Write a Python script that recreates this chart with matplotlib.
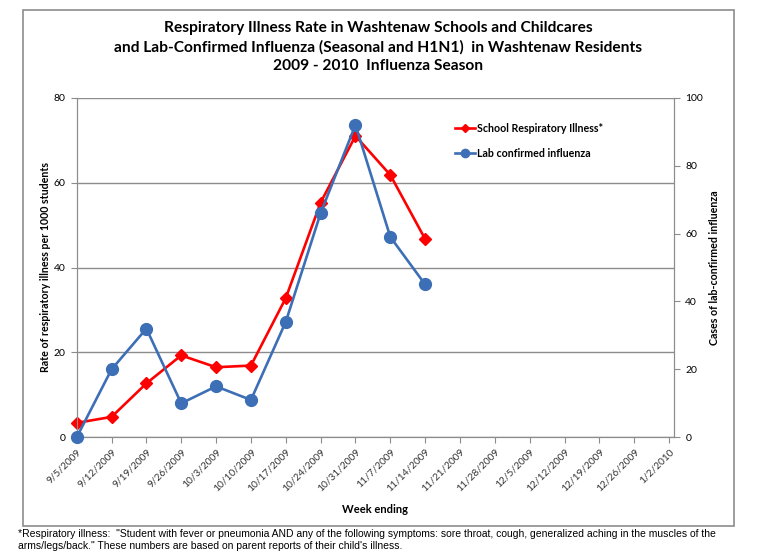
import matplotlib
matplotlib.use("Agg")
import matplotlib.pyplot as plt
from matplotlib.patches import Rectangle

# week-ending dates (category axis)
weeks = ['9/5/2009', '9/12/2009', '9/19/2009', '9/26/2009', '10/3/2009',
         '10/10/2009', '10/17/2009', '10/24/2009', '10/31/2009', '11/7/2009',
         '11/14/2009', '11/21/2009', '11/28/2009', '12/5/2009', '12/12/2009',
         '12/19/2009', '12/26/2009', '1/2/2010']

# school respiratory illness rate per 1000 students (left axis)
school_rate = [3.4, 4.8, 12.7, 19.3, 16.5, 16.9, 32.8, 55.3, 71.0, 61.8, 46.7]
# lab confirmed influenza cases (right axis)
lab_cases = [0, 20, 32, 10, 15, 11, 34, 66, 92, 59, 45]

left_ticks = [0, 20, 40, 60, 80]
right_ticks = [0, 20, 40, 60, 80, 100]

RED = '#ff0000'
BLUE = '#3d6fb6'
GRAY = '#8c8c8c'
FONT = 'Lato'

fig = plt.figure(figsize=(7.57, 5.59), dpi=100)

# outer chart frame
fig.patches.append(Rectangle((22.5 / 757, 1 - 526 / 559), (734 - 22.5) / 757, (526 - 10) / 559,
                             transform=fig.transFigure, fill=False, ec=GRAY, lw=1.2))

ax = fig.add_axes([76.7 / 757, 1 - 437.3 / 559, (674.3 - 76.7) / 757, (437.3 - 97.7) / 559])
ax2 = ax.twinx()

x = list(range(len(weeks)))
red_line, = ax.plot(x[:len(school_rate)], school_rate, color=RED, lw=1.9, marker='D', ms=6.5,
                    label='School Respiratory Illness*', zorder=3, clip_on=False)
blue_line, = ax2.plot(x[:len(lab_cases)], lab_cases, color=BLUE, lw=1.9, marker='o', ms=8.5,
                      label='Lab confirmed influenza', zorder=3, clip_on=False)

ax.set_xlim(0, 17.15)
ax.set_ylim(0, 80)
ax2.set_ylim(0, 100)
ax.set_yticks(left_ticks)
ax2.set_yticks(right_ticks)
ax.set_xticks(x)
ax.set_xticklabels(weeks, rotation=45, ha='right', rotation_mode='anchor',
                   fontsize=7.3, family=FONT, color='#333333')
ax.tick_params(axis='x', length=4, color=GRAY, pad=3)
ax.tick_params(axis='y', length=4, color=GRAY, labelsize=7.5, pad=4)
ax2.tick_params(axis='y', length=4, color=GRAY, labelsize=7.5, pad=4)
for lab in ax.get_yticklabels() + ax2.get_yticklabels():
    lab.set_family(FONT)

ax.grid(axis='y', color=GRAY, lw=1)
ax.set_axisbelow(True)
for a in (ax, ax2):
    for s in a.spines.values():
        s.set_color(GRAY)
    a.spines['top'].set_visible(False)

ax.set_ylabel('Rate of respiratory illness per 1000 students', family=FONT,
              fontweight='bold', fontsize=7.7, labelpad=2)
ax2.set_ylabel('Cases of lab-confirmed influenza', family=FONT, fontweight='bold',
               fontsize=7.7, labelpad=4)
ax.set_xlabel('Week ending', family=FONT, fontweight='bold', fontsize=8, labelpad=8)

ax2.legend(handles=[red_line, blue_line], loc='upper left',
           bbox_to_anchor=((455 - 76.7) / 597.6, 1 - (123 - 97.7) / 339.6),
           frameon=False, prop={'family': FONT, 'weight': 'bold', 'size': 7.7},
           handlelength=1.9, handletextpad=0.2, labelspacing=1.3, borderaxespad=0,
           borderpad=0, markerscale=0.7)

title = ('Respiratory Illness Rate in Washtenaw Schools and Childcares\n'
         'and Lab-Confirmed Influenza (Seasonal and H1N1)  in Washtenaw Residents\n'
         '2009 - 2010  Influenza Season')
fig.text(378 / 757, 1 - 21 / 559, title, ha='center', va='top', family=FONT,
         fontweight='bold', fontsize=11.2, linespacing=1.42)

note = ('*Respiratory illness:  "Student with fever or pneumonia AND any of the following symptoms: '
        'sore throat, cough, generalized aching in the muscles of the\n'
        'arms/legs/back." These numbers are based on parent reports of their child\'s illness.')
fig.text(18 / 757, 1 - 529 / 559, note, ha='left', va='top', family='Liberation Sans',
         fontsize=7.5, linespacing=1.3)

fig.savefig('out.png', dpi=100)
